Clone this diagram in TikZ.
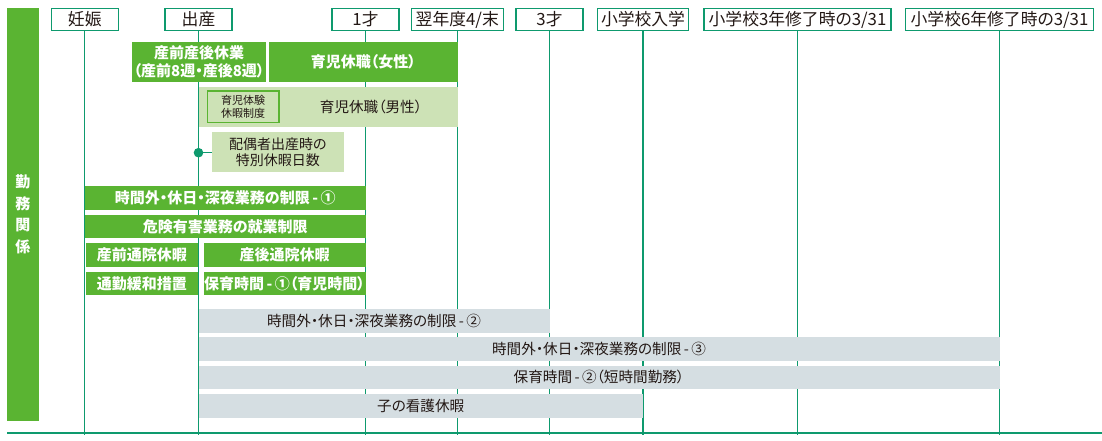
\documentclass[tikz,border=0pt]{standalone}
\usepackage{fontspec}
\newfontfamily\cjk[RawFeature=+palt]{Noto Sans CJK JP}
\definecolor{gr}{HTML}{5AB432}
\definecolor{lgr}{HTML}{CDE2B6}
\definecolor{gy}{HTML}{D5DEE2}
\definecolor{tl}{HTML}{0E9A6E}
\definecolor{ink}{HTML}{231815}
\newcommand{\hy}{\,-\,}
\begin{document}
\begin{tikzpicture}[x=1pt,y=-1pt,
  every node/.style={inner sep=0pt,outer sep=0pt},
  hdr/.style={draw=tl,line width=1.4pt,fill=white,text=ink,minimum height=22.5pt,font=\cjk\fontsize{16.8}{16.8}\selectfont},
  vline/.style={draw=tl,line width=1.1pt},
  gbar/.style={fill=gr,text=white,align=center,font=\cjk\bfseries\fontsize{15}{17.3}\selectfont},
  lbar/.style={fill=lgr,text=ink,align=center,font=\cjk\fontsize{14}{16}\selectfont},
  ybar/.style={fill=gy,text=ink,align=center,font=\cjk\fontsize{14.6}{16}\selectfont},
  plain/.style={text=ink,font=\cjk\fontsize{14.6}{16}\selectfont}]
\useasboundingbox[fill=white] (0,0) rectangle (1102,441);
% header boxes
\node[hdr,minimum width=67pt]  (h1) at (84.75,19.5) {妊娠};
\node[hdr,minimum width=67pt]  (h2) at (198.5,19.5) {出産};
\node[hdr,minimum width=67pt]  (h3) at (365.5,19.5) {1才};
\node[hdr,minimum width=92pt]  (h4) at (457.25,19.5) {翌年度4/末};
\node[hdr,minimum width=67pt]  (h5) at (549.5,19.5) {3才};
\node[hdr,minimum width=91pt]  (h6) at (643,19.5) {小学校入学};
\node[hdr,minimum width=187pt] (h7) at (797.5,19.5) {小学校3年修了時の3/31};
\node[hdr,minimum width=188pt] (h8) at (999.5,19.5) {小学校6年修了時の3/31};
% base line
\coordinate (bl) at (7,433);
\coordinate (br) at (1102,433);
\draw[vline] (bl) -- (br);
\foreach \h in {h1,h2,h3,h4,h5,h6,h7,h8}
  \draw[vline] (\h.south) -- (\h.south |- bl) -- ++(0,1.5);
% left label bar
\node[fill=gr,text=white,minimum width=31.5pt,minimum height=412.4pt,align=center,
  font=\cjk\bfseries\fontsize{15}{21.5}\selectfont] (side) at (22.75,214.5) {勤\\務\\関\\係};
% green bars
\node[gbar,minimum width=134pt,minimum height=39.7pt] (b1) at (199,61.85) {産前産後休業\\（産前8週・産後8週）};
\node[gbar,minimum width=188.5pt,minimum height=39.7pt] (b2) at (363.25,61.85) {育児休職（女性）};
% light green
\node[lbar,minimum width=259pt,minimum height=39.7pt] (b3) at (328,106.85) {};
\node[plain] (t3) at (371,107) {育児休職（男性）};
\node[fill=lgr,draw=gr,line width=1.1pt,text=ink,minimum width=71.7pt,minimum height=31.3pt,align=center,
  font=\cjk\fontsize{11}{13.6}\selectfont] (b4) at (243.15,106.65) {育児体験\\休暇制度};
\node[lbar,minimum width=131.5pt,minimum height=39.7pt] (b5) at (277.75,151.85) {配偶者出産時の\\特別休暇日数};
\node[circle,fill=tl,minimum size=9.6pt] (dot) at (198.5,152.7) {};
\draw[vline] (dot) -- (dot -| b5.west);
% green rows
\node[gbar,minimum width=280.5pt,minimum height=23.7pt] (b7) at (225.25,197.85) {時間外・休日・深夜業務の制限\hy ①};
\node[gbar,minimum width=280.5pt,minimum height=22.7pt] (b8) at (225.25,226.35) {危険有害業務の就業制限};
\node[gbar,minimum width=112.5pt,minimum height=24pt] (b9) at (141.75,255) {産前通院休暇};
\node[gbar,minimum width=162pt,minimum height=24pt] (b10) at (284.5,255) {産後通院休暇};
\node[gbar,minimum width=112.5pt,minimum height=23.3pt] (b11) at (141.75,283.35) {通勤緩和措置};
\node[gbar,minimum width=162pt,minimum height=23.3pt] (b12) at (284.5,283.35) {保育時間\hy ①（育児時間）};
% gray rows
\node[ybar,minimum width=351pt,minimum height=24pt] (b13) at (374,321) {時間外・休日・深夜業務の制限\hy ②};
\node[ybar,minimum width=801pt,minimum height=23.7pt] (b14) at (599,348.85) {時間外・休日・深夜業務の制限\hy ③};
\node[ybar,minimum width=801pt,minimum height=22.7pt] (b15) at (599,377.35) {保育時間\hy ②（短時間勤務）};
\node[ybar,minimum width=444.5pt,minimum height=23.7pt] (b16) at (420.75,405.85) {子の看護休暇};
\end{tikzpicture}
\end{document}
